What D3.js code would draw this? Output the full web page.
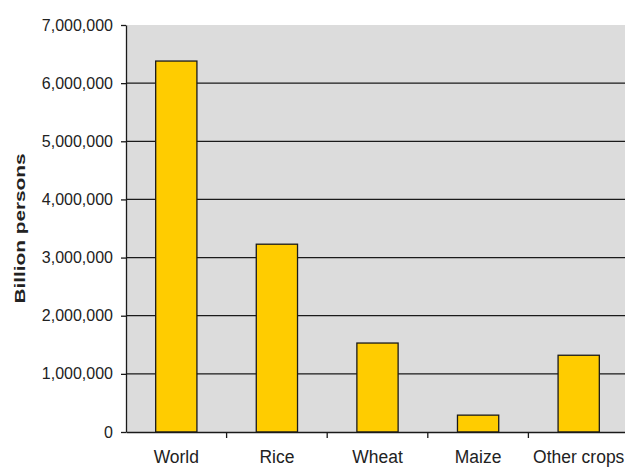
<!DOCTYPE html>
<html>
<head>
<meta charset="utf-8">
<script src="https://cdn.jsdelivr.net/npm/d3@7"></script>
<style>
body { margin: 0; background: #fff; }
text { font-family: "Liberation Sans", Arial, sans-serif; fill: #222; }
</style>
</head>
<body>
<script>
var categories = ["World", "Rice", "Wheat", "Maize", "Other crops"];
var values = [6380000, 3230000, 1530000, 290000, 1320000];
var yTicks = [0, 1000000, 2000000, 3000000, 4000000, 5000000, 6000000, 7000000];

var svgWidth = 625;
var svgHeight = 468;
var margin = {top: 25, right: -4, bottom: 36, left: 126};
var width = svgWidth - margin.left - margin.right;
var height = svgHeight - margin.top - margin.bottom;

var svg = d3.select("body").append("svg").attr("width", svgWidth).attr("height", svgHeight);
var chart = svg.append("g").attr("transform", `translate(${margin.left}, ${margin.top})`);

var x = d3.scaleBand().domain(categories).range([0, width]).paddingInner(0.59).paddingOuter(0.295);
var y = d3.scaleLinear().domain([0, 7000000]).range([height, 0]);

// plot background
chart.append("rect").attr("width", width).attr("height", height).attr("fill", "#dcdcdc");

// gridlines
chart.selectAll(".grid").data(yTicks.filter(d => d > 0 && d < 7000000)).enter().append("line")
  .attr("x1", 0).attr("x2", width).attr("y1", d => y(d)).attr("y2", d => y(d))
  .attr("stroke", "#1a1a1a").attr("stroke-width", 1.2);

// bars
chart.selectAll(".bar").data(values).enter().append("rect")
  .attr("x", (d, i) => x(categories[i])).attr("width", x.bandwidth())
  .attr("y", d => y(d)).attr("height", d => height - y(d))
  .attr("fill", "#ffcc00").attr("stroke", "#1a1a1a").attr("stroke-width", 1.3);

// y axis
var yAxis = d3.axisLeft(y).tickValues(yTicks).tickFormat(d3.format(",")).tickSize(5).tickSizeOuter(0).tickPadding(8);
var gy = chart.append("g").call(yAxis);
gy.select(".domain").attr("stroke", "#1a1a1a").attr("stroke-width", 1.3);
gy.selectAll(".tick line").attr("stroke", "#1a1a1a").attr("stroke-width", 1.3);
gy.selectAll("text").attr("font-size", "16px").attr("font-family", "Liberation Sans, Arial, sans-serif").attr("fill", "#333");

// x axis
var xAxis = d3.axisBottom(x).tickSize(0).tickSizeOuter(0).tickPadding(0);
var gx = chart.append("g").attr("transform", `translate(0, ${height})`).call(xAxis);
gx.select(".domain").attr("stroke", "#1a1a1a").attr("stroke-width", 1.3);
gx.selectAll("text").attr("font-size", "19px").attr("font-family", "Liberation Sans, Arial, sans-serif")
  .attr("fill", "#333").attr("dy", 0).attr("y", 0)
  .attr("transform", "translate(0, 31) scale(0.92, 1)");

// category boundary ticks
var gap = (x.step() - x.bandwidth()) / 2;
chart.selectAll(".btick").data(categories.slice(1)).enter().append("line")
  .attr("x1", d => x(d) - gap).attr("x2", d => x(d) - gap)
  .attr("y1", height).attr("y2", height + 6)
  .attr("stroke", "#1a1a1a").attr("stroke-width", 1.3);

// y axis title
svg.append("text").attr("transform", `translate(25, ${margin.top + height / 2}) rotate(-90) scale(1, 0.72)`)
  .attr("text-anchor", "middle").attr("font-weight", "bold").attr("font-size", "20.8px")
  .text("Billion persons");
</script>
</body>
</html>
